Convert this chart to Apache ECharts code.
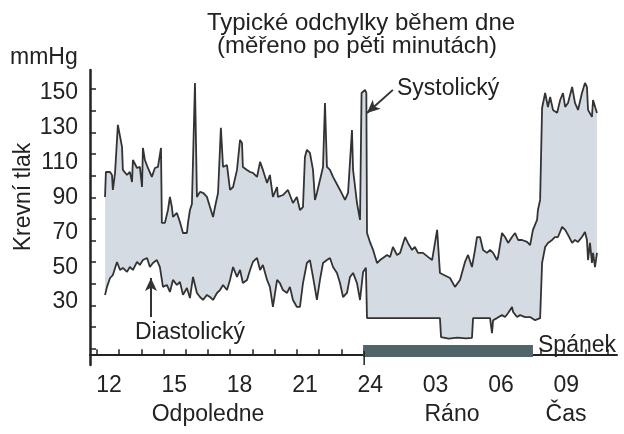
<!DOCTYPE html>
<html>
<head>
<meta charset="utf-8">
<script src="https://cdn.jsdelivr.net/npm/echarts@6/dist/echarts.min.js"></script>
<style>
html, body {margin:0; padding:0; background:#fff;}
#bp {width:624px; height:434px;}
</style>
</head>
<body>
<div id="bp"></div>
<script>
/************************ data (hours from noon, 24 = midnight) ************************/
var sysHours = [11.82,11.86,12.05,12.14,12.18,12.28,12.41,12.60,12.64,12.83,12.96,13.06,13.10,13.29,13.42,13.52,13.56,13.65,13.79,13.97,14.11,14.25,14.39,14.43,14.57,14.71,14.80,14.89,14.94,15.12,15.26,15.40,15.58,15.63,15.72,15.81,15.95,16.04,16.18,16.32,16.41,16.50,16.64,16.78,16.87,17.01,17.14,17.24,17.42,17.56,17.70,17.88,18.02,18.11,18.15,18.34,18.48,18.61,18.80,18.94,19.07,19.26,19.39,19.53,19.72,19.76,19.99,20.22,20.45,20.63,20.77,20.91,21.00,21.09,21.23,21.37,21.46,21.55,21.69,21.83,21.92,22.01,22.15,22.29,22.61,22.84,22.98,23.16,23.21,23.39,23.53,23.60,23.76,23.82,23.85,24.00,24.13,24.31,24.45,24.58,24.77,24.91,25.04,25.23,25.37,25.60,25.73,25.92,26.05,26.19,26.42,26.65,26.84,27.07,27.11,27.20,27.66,27.89,28.12,28.35,28.49,28.67,28.81,28.90,29.04,29.18,29.36,29.50,29.64,29.82,29.87,30.05,30.19,30.33,30.51,30.65,30.79,30.97,31.20,31.34,31.47,31.66,31.70,31.80,31.89,32.03,32.16,32.26,32.39,32.58,32.72,32.85,32.95,33.08,33.27,33.40,33.54,33.72,33.86,33.95,34.00,34.18,34.23,34.41];
var sysValues = [90.3,104.6,104.6,102.9,94.3,104.1,131.6,119.0,105.8,102.9,104.6,98.9,111.5,106.9,107.5,96.0,118.4,111.5,106.9,101.8,106.9,107.5,118.4,75.4,75.4,82.8,90.3,84.5,78.8,81.1,75.9,69.6,69.6,75.4,82.8,86.2,155.7,90.3,93.2,92.6,93.2,90.3,84.5,78.8,84.5,92.6,129.9,107.5,108.6,94.3,96.0,105.8,123.0,121.3,107.5,105.8,104.6,104.1,101.8,110.4,105.8,98.3,102.9,90.3,96.0,90.3,91.4,94.3,86.8,90.3,82.8,84.5,113.2,117.3,115.5,105.8,88.6,92.6,100.0,107.5,144.2,107.5,105.8,101.8,94.3,88.6,92.6,128.7,105.8,86.8,77.1,149.9,151.7,149.9,69.6,63.9,59.9,52.4,54.1,55.3,57.0,55.9,61.6,57.0,58.2,67.3,63.9,59.9,61.6,58.2,58.2,55.9,54.1,71.4,72.5,46.7,43.8,38.7,42.7,53.0,57.0,50.1,59.9,67.3,67.3,59.9,58.2,59.9,58.2,54.1,55.9,69.6,67.3,63.9,67.3,69.6,65.6,65.6,64.5,62.7,71.4,77.1,82.8,88.6,141.3,149.9,141.9,147.7,140.2,138.5,145.9,149.9,141.9,144.2,153.4,144.2,140.2,149.9,155.7,153.4,140.2,136.2,145.9,138.5];

var diaHours = [11.82,11.91,12.05,12.18,12.37,12.51,12.64,12.83,12.96,13.10,13.29,13.42,13.56,13.75,13.88,14.02,14.20,14.34,14.48,14.66,14.80,14.94,15.12,15.26,15.40,15.58,15.72,15.86,16.04,16.18,16.32,16.50,16.64,16.78,16.96,17.10,17.24,17.42,17.56,17.70,17.88,18.02,18.15,18.34,18.48,18.61,18.80,18.94,19.07,19.26,19.39,19.53,19.72,19.85,19.99,20.18,20.31,20.45,20.63,20.77,20.91,21.09,21.23,21.37,21.55,21.69,21.83,22.01,22.15,22.29,22.47,22.61,22.75,22.93,23.07,23.21,23.39,23.53,23.67,23.80,23.85,27.20,27.25,27.60,28.00,28.40,28.67,28.72,29.50,29.59,29.64,29.82,30.05,30.19,30.33,30.51,30.56,30.74,30.88,31.11,31.34,31.57,31.80,31.89,32.03,32.16,32.35,32.48,32.62,32.81,32.95,33.08,33.27,33.40,33.54,33.72,33.86,33.95,34.00,34.09,34.18,34.23,34.32,34.41];
var diaValues = [34.1,38.7,43.8,45.5,53.0,48.4,49.6,47.3,50.1,48.4,53.0,51.3,54.1,55.3,50.1,52.4,54.1,50.1,38.7,39.8,35.8,42.7,39.8,41.5,34.1,38.1,32.3,44.4,35.2,32.9,31.2,34.1,32.9,31.2,35.2,36.9,39.8,36.9,42.7,50.1,44.4,48.4,40.9,42.7,48.4,53.0,55.3,48.4,51.3,42.7,38.7,27.2,42.7,40.9,36.9,35.2,38.7,31.2,27.2,27.2,40.9,52.4,54.1,44.4,31.2,42.7,52.4,54.1,55.3,50.1,46.7,40.9,32.9,35.2,44.4,46.7,40.9,31.2,47.3,49.6,20.8,20.8,9.9,9.0,9.6,9.2,9.4,20.8,20.8,12.2,19.6,20.8,22.5,21.4,23.7,27.2,24.3,21.4,22.5,21.4,21.4,19.6,20.8,52.4,61.6,63.9,65.6,67.3,67.3,73.1,71.4,68.5,63.9,65.6,64.5,67.3,70.2,65.6,54.1,63.9,52.4,58.2,50.1,58.2];

var sleepHours = [23.67, 31.47];
var sleepLevel = 1.9;

var xLabelHours = [12, 15, 18, 21, 24, 27, 30, 33];
var xTickLabels = ['12', '15', '18', '21', '24', '03', '06', '09'];
var yTickLabels = [30, 50, 70, 90, 110, 130, 150];

// annotation arrows [from, to] in data units
var sysArrow = [[25.04, 151.7], [23.85, 138.5]];
var diaArrow = [[13.93, 21.4], [13.93, 43.8]];

/************************ helpers ************************/
var FONT = 'Liberation Sans, Arial, sans-serif';
var ink = '#222';

function zip(xs, ys) {
    var out = [];
    for (var i = 0; i < xs.length; i++) out.push([xs[i], ys[i]]);
    return out;
}
var sysData = zip(sysHours, sysValues);
var diaData = zip(diaHours, diaValues);

// tick marks of the original drawing are not on the label values
var yTicks = [];
for (var k = 0; k <= 12; k++) yTicks.push(152.1 - 12.4 * k);
var xTicks = [];
for (var j = 0; j <= 23; j++) xTicks.push(11.45 + 1.02 * j);

function txt(text, x, y, align, size, extra) {
    var el = {
        type: 'text', x: x, y: y, z: 50,
        style: {text: text, x: 0, y: 0, fill: ink, font: size + 'px ' + FONT,
                align: align, verticalAlign: 'middle', textAlign: align, textVerticalAlign: 'middle'}
    };
    if (extra) for (var p in extra) el[p] = extra[p];
    return el;
}

/************************ chart ************************/
var chart = echarts.init(document.getElementById('bp'));

var option = {
    animation: false,
    backgroundColor: '#fff',
    grid: {left: 90, right: 7, top: 70, bottom: 69},
    xAxis: {
        type: 'value', min: 11.13, max: 35.33,
        axisLine: {show: true, lineStyle: {color: ink, width: 2}},
        axisTick: {show: true, inside: true, length: 5, customValues: xTicks, lineStyle: {color: ink, width: 1.5}},
        axisLabel: {
            customValues: xLabelHours, margin: 9, fontSize: 23, fontFamily: FONT, color: ink,
            formatter: function (v) { return xTickLabels[xLabelHours.indexOf(v)]; }
        },
        splitLine: {show: false}
    },
    yAxis: {
        type: 'value', min: -6.1, max: 163.1,
        axisLine: {show: true, lineStyle: {color: ink, width: 2.5}},
        axisTick: {show: true, inside: true, length: 6, customValues: yTicks, lineStyle: {color: ink, width: 1.5}},
        axisLabel: {customValues: yTickLabels, margin: 12, fontSize: 23, fontFamily: FONT, color: ink},
        splitLine: {show: false}
    },
    graphic: [
        txt('Typické odchylky během dne', 361, 23, 'center', 24),
        txt('(měřeno po pěti minutách)', 357, 46, 'center', 24),
        txt('mmHg', 10, 58, 'left', 23),
        txt('Krevní tlak', 24, 197, 'center', 23, {rotation: Math.PI / 2}),
        txt('Systolický', 397, 89, 'left', 23),
        txt('Diastolický', 135, 333, 'left', 23),
        txt('Spánek', 538, 346, 'left', 23),
        txt('Odpoledne', 208, 415, 'center', 23),
        txt('Ráno', 452, 415, 'center', 23),
        txt('Čas', 566, 415, 'center', 23)
    ],
    series: [
        {
            // band between the two curves
            type: 'custom', z: 1, silent: true,
            data: [[sysHours[0], sysValues[0]]],
            renderItem: function (params, api) {
                var pts = [];
                for (var i = 0; i < sysData.length; i++) pts.push(api.coord(sysData[i]));
                for (var m = diaData.length - 1; m >= 0; m--) pts.push(api.coord(diaData[m]));
                return {type: 'polygon', shape: {points: pts}, style: {fill: '#d5dbe3', stroke: 'none'}};
            }
        },
        {
            name: 'Systolický', type: 'line', data: sysData, z: 3, symbol: 'none',
            lineStyle: {color: '#333', width: 1.8},
            markLine: {
                silent: true, symbol: ['none', 'arrow'], symbolSize: [9, 13], label: {show: false},
                lineStyle: {color: '#333', width: 2, type: 'solid'},
                data: [[{coord: sysArrow[0]}, {coord: sysArrow[1]}]]
            }
        },
        {
            name: 'Diastolický', type: 'line', data: diaData, z: 3, symbol: 'none',
            lineStyle: {color: '#333', width: 1.8},
            markLine: {
                silent: true, symbol: ['none', 'arrow'], symbolSize: [9, 13], label: {show: false},
                lineStyle: {color: '#333', width: 2, type: 'solid'},
                data: [[{coord: diaArrow[0]}, {coord: diaArrow[1]}]]
            }
        },
        {
            name: 'Spánek', type: 'line', z: 4, symbol: 'none',
            data: [[sleepHours[0], sleepLevel], [sleepHours[1], sleepLevel]],
            lineStyle: {color: '#50656a', width: 12, cap: 'butt'}
        },
        {
            type: 'line', z: 4, symbol: 'none',
            data: [[sleepHours[0] + 0.05, sleepLevel], [sleepHours[0] + 0.05, -6.1]],
            lineStyle: {color: ink, width: 1.5}
        }
    ]
};

chart.setOption(option);
</script>
</body>
</html>
